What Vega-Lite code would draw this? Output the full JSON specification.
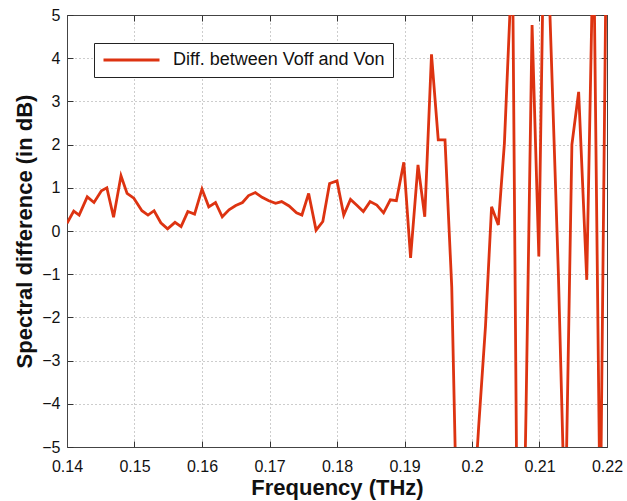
{
  "$schema": "https://vega.github.io/schema/vega-lite/v6.json",
  "width": 540,
  "height": 432,
  "autosize": "none",
  "padding": {"left": 67, "top": 15, "right": 20, "bottom": 54},
  "background": "white",
  "config": {"view": {"stroke": null}, "font": "Liberation Sans"},
  "data": {"values": [
    {"f": 0.1400, "v": 0.18, "series": "Diff. between Voff and Von"},
    {"f": 0.1410, "v": 0.46, "series": "Diff. between Voff and Von"},
    {"f": 0.1418, "v": 0.37, "series": "Diff. between Voff and Von"},
    {"f": 0.1430, "v": 0.79, "series": "Diff. between Voff and Von"},
    {"f": 0.1440, "v": 0.66, "series": "Diff. between Voff and Von"},
    {"f": 0.1451, "v": 0.93, "series": "Diff. between Voff and Von"},
    {"f": 0.1459, "v": 1.00, "series": "Diff. between Voff and Von"},
    {"f": 0.1469, "v": 0.32, "series": "Diff. between Voff and Von"},
    {"f": 0.1480, "v": 1.28, "series": "Diff. between Voff and Von"},
    {"f": 0.1489, "v": 0.87, "series": "Diff. between Voff and Von"},
    {"f": 0.1499, "v": 0.76, "series": "Diff. between Voff and Von"},
    {"f": 0.1511, "v": 0.47, "series": "Diff. between Voff and Von"},
    {"f": 0.1520, "v": 0.37, "series": "Diff. between Voff and Von"},
    {"f": 0.1529, "v": 0.47, "series": "Diff. between Voff and Von"},
    {"f": 0.1539, "v": 0.19, "series": "Diff. between Voff and Von"},
    {"f": 0.1549, "v": 0.05, "series": "Diff. between Voff and Von"},
    {"f": 0.1560, "v": 0.20, "series": "Diff. between Voff and Von"},
    {"f": 0.1569, "v": 0.10, "series": "Diff. between Voff and Von"},
    {"f": 0.1579, "v": 0.45, "series": "Diff. between Voff and Von"},
    {"f": 0.1589, "v": 0.39, "series": "Diff. between Voff and Von"},
    {"f": 0.1600, "v": 0.97, "series": "Diff. between Voff and Von"},
    {"f": 0.1610, "v": 0.56, "series": "Diff. between Voff and Von"},
    {"f": 0.1620, "v": 0.66, "series": "Diff. between Voff and Von"},
    {"f": 0.1630, "v": 0.33, "series": "Diff. between Voff and Von"},
    {"f": 0.1640, "v": 0.49, "series": "Diff. between Voff and Von"},
    {"f": 0.1650, "v": 0.59, "series": "Diff. between Voff and Von"},
    {"f": 0.1660, "v": 0.66, "series": "Diff. between Voff and Von"},
    {"f": 0.1669, "v": 0.82, "series": "Diff. between Voff and Von"},
    {"f": 0.1679, "v": 0.89, "series": "Diff. between Voff and Von"},
    {"f": 0.1689, "v": 0.78, "series": "Diff. between Voff and Von"},
    {"f": 0.1699, "v": 0.70, "series": "Diff. between Voff and Von"},
    {"f": 0.1709, "v": 0.64, "series": "Diff. between Voff and Von"},
    {"f": 0.1718, "v": 0.68, "series": "Diff. between Voff and Von"},
    {"f": 0.1729, "v": 0.58, "series": "Diff. between Voff and Von"},
    {"f": 0.1740, "v": 0.42, "series": "Diff. between Voff and Von"},
    {"f": 0.1748, "v": 0.37, "series": "Diff. between Voff and Von"},
    {"f": 0.1758, "v": 0.87, "series": "Diff. between Voff and Von"},
    {"f": 0.1769, "v": 0.02, "series": "Diff. between Voff and Von"},
    {"f": 0.1779, "v": 0.22, "series": "Diff. between Voff and Von"},
    {"f": 0.1789, "v": 1.10, "series": "Diff. between Voff and Von"},
    {"f": 0.1800, "v": 1.16, "series": "Diff. between Voff and Von"},
    {"f": 0.1810, "v": 0.37, "series": "Diff. between Voff and Von"},
    {"f": 0.1820, "v": 0.73, "series": "Diff. between Voff and Von"},
    {"f": 0.1829, "v": 0.60, "series": "Diff. between Voff and Von"},
    {"f": 0.1839, "v": 0.45, "series": "Diff. between Voff and Von"},
    {"f": 0.1849, "v": 0.68, "series": "Diff. between Voff and Von"},
    {"f": 0.1859, "v": 0.60, "series": "Diff. between Voff and Von"},
    {"f": 0.1869, "v": 0.42, "series": "Diff. between Voff and Von"},
    {"f": 0.1879, "v": 0.72, "series": "Diff. between Voff and Von"},
    {"f": 0.1888, "v": 0.70, "series": "Diff. between Voff and Von"},
    {"f": 0.1899, "v": 1.59, "series": "Diff. between Voff and Von"},
    {"f": 0.1909, "v": -0.62, "series": "Diff. between Voff and Von"},
    {"f": 0.1920, "v": 1.53, "series": "Diff. between Voff and Von"},
    {"f": 0.1930, "v": 0.33, "series": "Diff. between Voff and Von"},
    {"f": 0.1940, "v": 4.09, "series": "Diff. between Voff and Von"},
    {"f": 0.1950, "v": 2.11, "series": "Diff. between Voff and Von"},
    {"f": 0.1960, "v": 2.11, "series": "Diff. between Voff and Von"},
    {"f": 0.1970, "v": -1.3, "series": "Diff. between Voff and Von"},
    {"f": 0.1980, "v": -8.7, "series": "Diff. between Voff and Von"},
    {"f": 0.1990, "v": -11.0, "series": "Diff. between Voff and Von"},
    {"f": 0.2000, "v": -7.0, "series": "Diff. between Voff and Von"},
    {"f": 0.2010, "v": -4.5, "series": "Diff. between Voff and Von"},
    {"f": 0.2020, "v": -2.2, "series": "Diff. between Voff and Von"},
    {"f": 0.2029, "v": 0.56, "series": "Diff. between Voff and Von"},
    {"f": 0.2039, "v": 0.14, "series": "Diff. between Voff and Von"},
    {"f": 0.2048, "v": 2.03, "series": "Diff. between Voff and Von"},
    {"f": 0.2060, "v": 6.45, "series": "Diff. between Voff and Von"},
    {"f": 0.2070, "v": -13.2, "series": "Diff. between Voff and Von"},
    {"f": 0.2080, "v": -4.2, "series": "Diff. between Voff and Von"},
    {"f": 0.2089, "v": 4.77, "series": "Diff. between Voff and Von"},
    {"f": 0.2099, "v": -0.59, "series": "Diff. between Voff and Von"},
    {"f": 0.2108, "v": 8.6, "series": "Diff. between Voff and Von"},
    {"f": 0.2118, "v": 3.8, "series": "Diff. between Voff and Von"},
    {"f": 0.2128, "v": -1.0, "series": "Diff. between Voff and Von"},
    {"f": 0.2138, "v": -7.0, "series": "Diff. between Voff and Von"},
    {"f": 0.2148, "v": 2.0, "series": "Diff. between Voff and Von"},
    {"f": 0.2158, "v": 3.22, "series": "Diff. between Voff and Von"},
    {"f": 0.2170, "v": -1.13, "series": "Diff. between Voff and Von"},
    {"f": 0.2180, "v": 7.06, "series": "Diff. between Voff and Von"},
    {"f": 0.2190, "v": -7.0, "series": "Diff. between Voff and Von"},
    {"f": 0.2200, "v": 8.3, "series": "Diff. between Voff and Von"}
  ]},
  "layer": [
    {
      "mark": {"type": "line", "clip": true, "strokeWidth": 2.8, "strokeJoin": "miter"},
      "encoding": {
        "x": {"field": "f", "type": "quantitative",
          "scale": {"domain": [0.14, 0.22], "nice": false, "zero": false},
          "axis": {"orient": "bottom", "values": [0.14, 0.15, 0.16, 0.17, 0.18, 0.19, 0.2, 0.21, 0.22],
            "format": "~g", "labelFlush": false, "labelOverlap": false,
            "labelFont": "Liberation Sans", "labelFontSize": 16, "labelColor": "#111",
            "labelPadding": 17,
            "tickSize": -6, "tickColor": "#333", "domainColor": "#444", "domainWidth": 1,
            "grid": true, "gridDash": [1, 3], "gridColor": "#9a9a9a", "gridWidth": 1,
            "title": "Frequency (THz)", "titleFont": "Liberation Sans", "titleFontSize": 22,
            "titleFontWeight": "bold", "titleColor": "#111", "titlePadding": 3}},
        "y": {"field": "v", "type": "quantitative",
          "scale": {"domain": [-5, 5], "nice": false, "zero": false},
          "axis": {"orient": "left", "values": [-5, -4, -3, -2, -1, 0, 1, 2, 3, 4, 5],
            "format": "d", "labelFlush": false, "labelOverlap": false,
            "labelFont": "Liberation Sans", "labelFontSize": 16, "labelColor": "#111",
            "labelPadding": 13,
            "tickSize": -6, "tickColor": "#333", "domainColor": "#444", "domainWidth": 1,
            "grid": true, "gridDash": [1, 3], "gridColor": "#9a9a9a", "gridWidth": 1,
            "title": "Spectral difference (in dB)", "titleFont": "Liberation Sans", "titleFontSize": 22,
            "titleFontWeight": "bold", "titleColor": "#111", "titlePadding": 5}},
        "color": {"field": "series", "type": "nominal",
          "scale": {"range": ["#dd3311"]},
          "legend": {"orient": "none", "legendX": 27, "legendY": 28, "title": null,
            "symbolType": "stroke", "symbolSize": 3136, "symbolStrokeWidth": 2.8,
            "clipHeight": 18,
            "labelFont": "Liberation Sans", "labelFontSize": 18, "labelColor": "#111",
            "labelOffset": 12, "padding": 8, "strokeColor": "#222", "fillColor": "white",
            "labelLimit": 400}}
      }
    },
    {
      "mark": {"type": "line", "clip": true, "opacity": 0},
      "encoding": {
        "x": {"field": "f", "type": "quantitative",
          "scale": {"domain": [0.14, 0.22], "nice": false, "zero": false},
          "axis": {"orient": "top", "values": [0.14, 0.15, 0.16, 0.17, 0.18, 0.19, 0.2, 0.21, 0.22],
            "labels": false, "title": null, "grid": false,
            "tickSize": -6, "tickColor": "#333", "domainColor": "#444", "domainWidth": 1}},
        "y": {"field": "v", "type": "quantitative",
          "scale": {"domain": [-5, 5], "nice": false, "zero": false},
          "axis": {"orient": "right", "values": [-5, -4, -3, -2, -1, 0, 1, 2, 3, 4, 5],
            "labels": false, "title": null, "grid": false,
            "tickSize": -6, "tickColor": "#333", "domainColor": "#444", "domainWidth": 1}}
      }
    }
  ],
  "resolve": {"axis": {"x": "independent", "y": "independent"}}
}
